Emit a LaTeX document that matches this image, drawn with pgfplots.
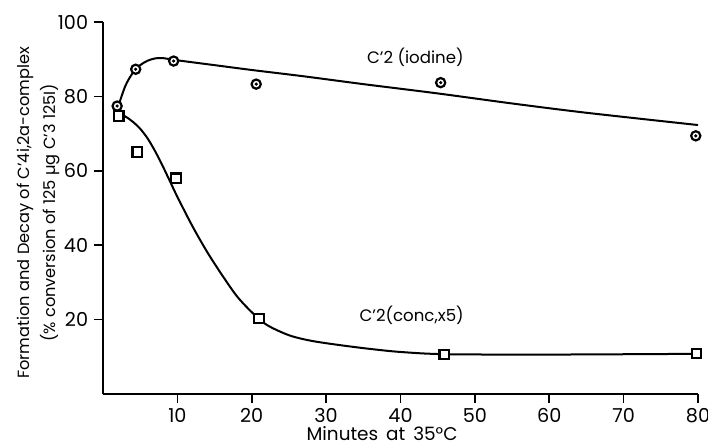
\documentclass[border=0pt]{standalone}
\usepackage{fontspec}
\setmainfont{Poppins}
\usepackage{pgfplots}
\pgfplotsset{compat=1.18}
\begin{document}
\fontsize{8.3}{11}\selectfont
\begin{tikzpicture}
\useasboundingbox (0,0) rectangle (354pt,222.5pt);
\begin{axis}[
  at={(51.5pt,25.5pt)}, anchor=south west,
  scale only axis, width=297.5pt, height=186pt,
  xmin=0, xmax=80, ymin=0, ymax=100,
  axis lines=left, axis line style={line width=0.9pt, -},
  xtick={10,20,...,80}, ytick={20,40,...,100},
  tick align=outside, major tick length=4.5pt,
  tick style={line width=0.8pt, black},
  /pgf/number format/assume math mode=true,
  ticklabel style={font=\fontsize{9.6}{11}\selectfont},
  xticklabel style={inner sep=1pt, yshift=-1.5pt},
  xlabel={Minutes\, at\, 35°C},
  ylabel={Formation and Decay of C'4i,2a-complex\\[3pt](\% conversion of 125 µg C'3 125I)},
  ylabel style={align=center, font=\fontsize{8.1}{10}\selectfont, at={(axis description cs:-0.108,0.487)}, anchor=center, rotate=0},
  xlabel style={font=\fontsize{9.2}{11}\selectfont, inner sep=0.5pt, at={(axis description cs:0.469,0)}, anchor=base, yshift=-23.3pt},
  clip=false,
]
% smooth fitted curves
\addplot[black, line width=1pt, smooth, tension=0.5] coordinates {
 (2,77) (3,82.8) (4,86.3) (5,88.4) (6,89.6) (7,90.2) (8,90.3) (10,89.7)
 (15,88.4) (20,87.1) (27,85.4) (35,83.3) (45,80.8) (55,78.1) (65,75.6) (80,72.3)};
\addplot[black, line width=1pt, smooth, tension=0.5] coordinates {
 (2,75.5) (3,74.6) (4,73.2) (5,71.3) (6,68.7) (7,65.3) (8,61.4) (9,57.2) (10,53)
 (12,45.2) (14,38.2) (16,32) (18,26.3) (20,22) (22,18.6) (25,15.8) (28,14.3)
 (32,13.1) (36,12.1) (40,11.3) (46,10.7) (60,10.6) (80,10.8)};
% data points
\addplot[only marks, mark=*, mark size=2.3pt, mark options={fill=white, draw=black, line width=1.1pt}] coordinates {
 (1.9,77.4) (4.4,87.3) (9.5,89.5) (20.6,83.3) (45.4,83.7) (79.7,69.4)};
\addplot[only marks, mark=*, mark size=0.6pt, black] coordinates {
 (1.9,77.4) (4.4,87.3) (9.5,89.5) (20.6,83.3) (45.4,83.7) (79.7,69.4)};
\addplot[only marks, mark=square*, mark size=2.4pt, mark options={fill=white, draw=black, line width=1.1pt}] coordinates {
 (2.1,74.7) (4.6,65.1) (9.8,58) (21,20.3) (45.9,10.6) (79.8,10.9)};
\node at (axis cs:42,90.6) {C'2 (iodine)};
\node at (axis cs:41.5,21.2) {C'2(conc,x5)};
\end{axis}
\end{tikzpicture}
\end{document}
